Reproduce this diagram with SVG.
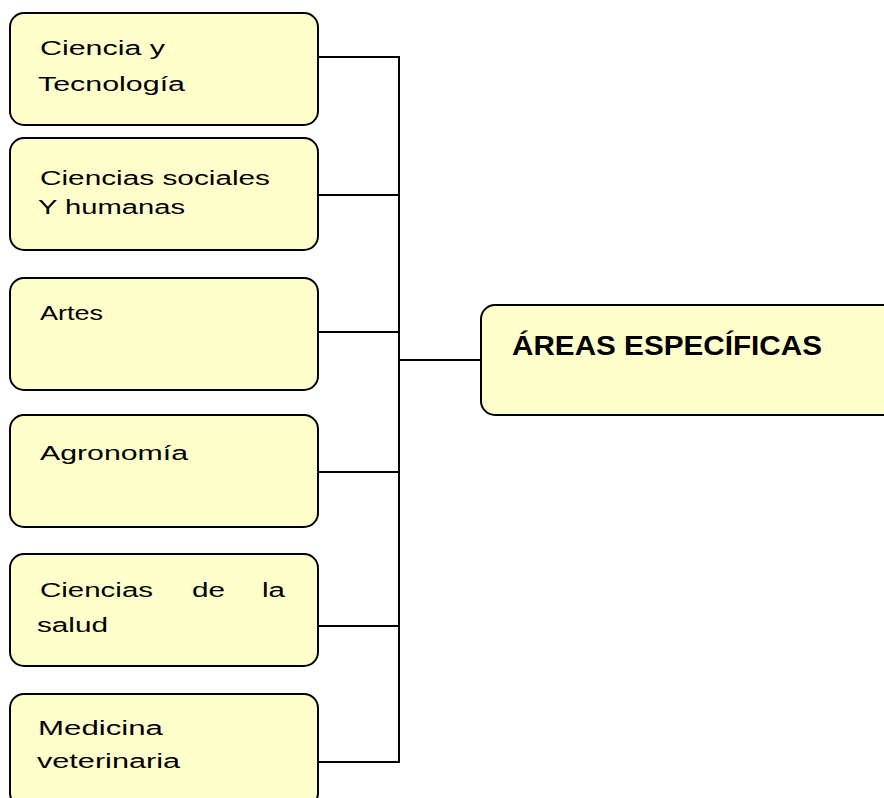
<svg xmlns="http://www.w3.org/2000/svg" width="884" height="798" viewBox="0 0 884 798">
<style>
.box{fill:#FFFFCC;stroke:#000;stroke-width:2}
.t{font-family:"Liberation Sans",Arial,sans-serif;font-size:20px;fill:#000}
.h{font-family:"Liberation Sans",Arial,sans-serif;font-size:27px;font-weight:bold;fill:#000}
.c{fill:none;stroke:#000;stroke-width:2}
</style>
<rect width="884" height="798" fill="#fff"/>
<g id="connectors">
<line class="c" x1="399" y1="57" x2="399" y2="762"/>
<line class="c" x1="318" y1="57" x2="400" y2="57"/>
<line class="c" x1="318" y1="195" x2="400" y2="195"/>
<line class="c" x1="318" y1="332" x2="400" y2="332"/>
<line class="c" x1="318" y1="472" x2="400" y2="472"/>
<line class="c" x1="318" y1="626" x2="400" y2="626"/>
<line class="c" x1="318" y1="762" x2="400" y2="762"/>
<line class="c" x1="399" y1="360" x2="481" y2="360"/>
</g>
<g id="main">
<rect class="box" x="481" y="305" width="420" height="110" rx="14"/>
<text class="h" x="512" y="355" textLength="310" lengthAdjust="spacingAndGlyphs">ÁREAS ESPECÍFICAS</text>
</g>
<g id="ciencia-tecnologia">
<rect class="box" x="10" y="13" width="308" height="112" rx="14"/>
<text class="t" x="40" y="55" textLength="125" lengthAdjust="spacingAndGlyphs">Ciencia y</text>
<text class="t" x="38" y="91" textLength="147" lengthAdjust="spacingAndGlyphs">Tecnología</text>
</g>
<g id="ciencias-sociales">
<rect class="box" x="10" y="138" width="308" height="112" rx="14"/>
<text class="t" x="40" y="185" textLength="230" lengthAdjust="spacingAndGlyphs">Ciencias sociales</text>
<text class="t" x="38" y="214" textLength="147" lengthAdjust="spacingAndGlyphs">Y humanas</text>
</g>
<g id="artes">
<rect class="box" x="10" y="278" width="308" height="112" rx="14"/>
<text class="t" x="40" y="320" textLength="63" lengthAdjust="spacingAndGlyphs">Artes</text>
</g>
<g id="agronomia">
<rect class="box" x="10" y="415" width="308" height="112" rx="14"/>
<text class="t" x="40" y="460" textLength="148" lengthAdjust="spacingAndGlyphs">Agronomía</text>
</g>
<g id="ciencias-salud">
<rect class="box" x="10" y="554" width="308" height="112" rx="14"/>
<text class="t" x="40" y="597" textLength="113" lengthAdjust="spacingAndGlyphs">Ciencias</text>
<text class="t" x="192" y="597" textLength="33" lengthAdjust="spacingAndGlyphs">de</text>
<text class="t" x="262" y="597" textLength="23" lengthAdjust="spacingAndGlyphs">la</text>
<text class="t" x="37" y="632" textLength="71" lengthAdjust="spacingAndGlyphs">salud</text>
</g>
<g id="medicina-veterinaria">
<rect class="box" x="10" y="694" width="308" height="113" rx="14"/>
<text class="t" x="38" y="735" textLength="125" lengthAdjust="spacingAndGlyphs">Medicina</text>
<text class="t" x="37" y="768" textLength="143" lengthAdjust="spacingAndGlyphs">veterinaria</text>
</g>
</svg>
